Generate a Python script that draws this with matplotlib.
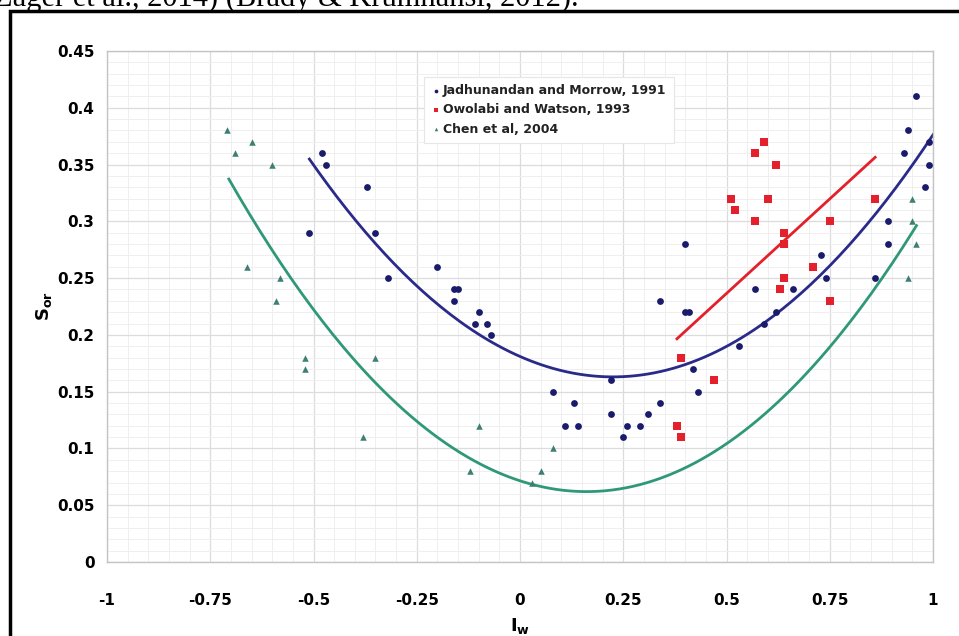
import numpy as np
import matplotlib
matplotlib.use("Agg")
import matplotlib.pyplot as plt
from matplotlib.ticker import MultipleLocator
from matplotlib.patches import Rectangle

# ---- data ----
jm_x = [-0.51, -0.48, -0.47, -0.37, -0.35, -0.32, -0.20, -0.16, -0.15, -0.16, -0.10, -0.11, -0.08, -0.07,
        0.08, 0.11, 0.14, 0.13, 0.22, 0.22, 0.25, 0.26, 0.29, 0.31, 0.34, 0.34, 0.40, 0.40, 0.41, 0.42, 0.43,
        0.53, 0.57, 0.59, 0.62, 0.66, 0.73, 0.74, 0.86, 0.89, 0.89, 0.93, 0.94, 0.96, 0.98, 0.99, 0.99]
jm_y = [0.29, 0.36, 0.35, 0.33, 0.29, 0.25, 0.26, 0.24, 0.24, 0.23, 0.22, 0.21, 0.21, 0.20,
        0.15, 0.12, 0.12, 0.14, 0.16, 0.13, 0.11, 0.12, 0.12, 0.13, 0.14, 0.23, 0.28, 0.22, 0.22, 0.17, 0.15,
        0.19, 0.24, 0.21, 0.22, 0.24, 0.27, 0.25, 0.25, 0.30, 0.28, 0.36, 0.38, 0.41, 0.33, 0.37, 0.35]

ow_x = [0.59, 0.57, 0.62, 0.51, 0.52, 0.60, 0.57, 0.86, 0.75, 0.64, 0.64, 0.71, 0.64, 0.63, 0.75,
        0.39, 0.47, 0.38, 0.39]
ow_y = [0.37, 0.36, 0.35, 0.32, 0.31, 0.32, 0.30, 0.32, 0.30, 0.29, 0.28, 0.26, 0.25, 0.24, 0.23,
        0.18, 0.16, 0.12, 0.11]

ch_x = [-0.71, -0.65, -0.69, -0.60, -0.66, -0.58, -0.59, -0.52, -0.52, -0.35, -0.38, -0.10, -0.12,
        0.08, 0.05, 0.03, 0.95, 0.95, 0.96, 0.94]
ch_y = [0.38, 0.37, 0.36, 0.35, 0.26, 0.25, 0.23, 0.18, 0.17, 0.18, 0.11, 0.12, 0.08,
        0.10, 0.08, 0.07, 0.32, 0.30, 0.28, 0.25]

# fitted curves (coefficients: a*x^2 + b*x + c)
jm_fit = [0.355, -0.1598, 0.1810]
jm_fit_range = [-0.51, 1.0]
ch_fit = [0.367, -0.1182, 0.0715]
ch_fit_range = [-0.705, 0.96]
ow_fit = [0.333, 0.070]
ow_fit_range = [0.38, 0.86]

legend_labels = ["Jadhunandan and Morrow, 1991", "Owolabi and Watson, 1993", "Chen et al, 2004"]
x_ticks = [-1, -0.75, -0.5, -0.25, 0, 0.25, 0.5, 0.75, 1]
x_ticklabels = ["-1", "-0.75", "-0.5", "-0.25", "0", "0.25", "0.5", "0.75", "1"]
y_ticks = [0, 0.05, 0.1, 0.15, 0.2, 0.25, 0.3, 0.35, 0.4, 0.45]
y_ticklabels = ["0", "0.05", "0.1", "0.15", "0.2", "0.25", "0.3", "0.35", "0.4", "0.45"]
caption = "Zager et al., 2014) (Brady & Krumhansl, 2012)."

# ---- styling ----
plt.rcParams['font.family'] = ['DejaVu Sans']
plt.rcParams['mathtext.fontset'] = 'dejavusans'

c_blue = "#1b1b6b"
c_blue_line = "#2a2a8a"
c_red = "#e3202b"
c_green_pt = "#3d7f72"
c_green_line = "#2f9878"

fig = plt.figure(figsize=(9.59, 6.36), dpi=100)
W, H = 959, 636

# outer black border (extends past right / bottom edges)
fig.patches.append(Rectangle((10 / W, -0.1), 1.2, 1 - 11 / H + 0.1, transform=fig.transFigure,
                             fill=False, edgecolor="black", linewidth=2.5, zorder=0))

# caption at the top, clipped by the image edge as in the reference
fig.text(-0.006, 1 - 6 / H, caption, family="Liberation Serif", fontsize=22,
         va="baseline", ha="left", color="black")

ax = fig.add_axes([107 / W, 1 - 562 / H, (933 - 107) / W, (562 - 51) / H])

ax.scatter(jm_x, jm_y, s=24, marker="o", color=c_blue, zorder=3, linewidths=0,
           label=legend_labels[0])
ax.scatter(ow_x, ow_y, s=32, marker="s", color=c_red, zorder=3, linewidths=0,
           label=legend_labels[1])
ax.scatter(ch_x, ch_y, s=22, marker="^", color=c_green_pt, zorder=3, linewidths=0,
           label=legend_labels[2])

xs = np.linspace(jm_fit_range[0], jm_fit_range[1], 200)
ax.plot(xs, np.polyval(jm_fit, xs), color=c_blue_line, lw=2, zorder=2)
xs = np.linspace(ch_fit_range[0], ch_fit_range[1], 200)
ax.plot(xs, np.polyval(ch_fit, xs), color=c_green_line, lw=2, zorder=2)
xs = np.linspace(ow_fit_range[0], ow_fit_range[1], 50)
ax.plot(xs, np.polyval(ow_fit, xs), color=c_red, lw=2, zorder=2)

ax.set_xlim(-1, 1)
ax.set_ylim(0, 0.45)
ax.set_xticks(x_ticks)
ax.set_xticklabels(x_ticklabels)
ax.set_yticks(y_ticks)
ax.set_yticklabels(y_ticklabels)
ax.xaxis.set_minor_locator(MultipleLocator(0.05))
ax.yaxis.set_minor_locator(MultipleLocator(0.01))
ax.grid(which="major", color="#dcdcdc", lw=0.9)
ax.grid(which="minor", color="#efefef", lw=0.7)
ax.set_axisbelow(True)
ax.tick_params(which="both", length=0)
ax.tick_params(axis="x", pad=22, labelsize=11)
ax.tick_params(axis="y", pad=9, labelsize=11)
for lab in ax.get_xticklabels() + ax.get_yticklabels():
    lab.set_fontweight("bold")
for sp in ax.spines.values():
    sp.set_color("#c4c4c4")
    sp.set_linewidth(1.0)

ax.set_xlabel(r"$\mathbf{I}_{\mathbf{w}}$", fontsize=13, labelpad=6)
ax.set_ylabel(r"$\mathbf{S}_{\mathbf{or}}$", fontsize=13, labelpad=2)

leg = ax.legend(loc="upper left", bbox_to_anchor=(0.376, 0.962), frameon=True, fancybox=False,
                edgecolor="#e6e6e6", framealpha=1, prop={"weight": "bold", "size": 9},
                handletextpad=0.1, labelspacing=0.5, borderpad=0.6, handlelength=0.8,
                markerscale=0.55)
leg.get_frame().set_linewidth(0.8)
for t in leg.get_texts():
    t.set_color("#222222")

fig.savefig("out.png", dpi=100)
